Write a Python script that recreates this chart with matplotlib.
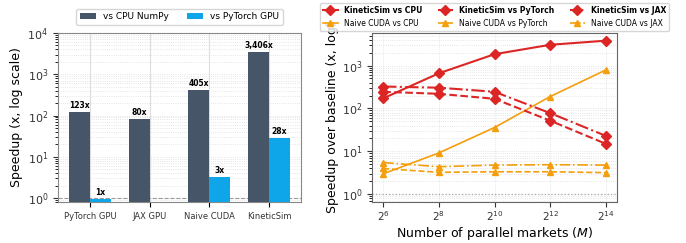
import numpy as np
import matplotlib
matplotlib.use('Agg')
import matplotlib.pyplot as plt

# ---- left panel: speedup per backend ----
backends = ['PyTorch GPU', 'JAX GPU', 'Naive CUDA', 'KineticSim']
vs_cpu = [123, 80, 405, 3406]
vs_torch = [0.95, np.nan, 3.2, 28]
cpu_labels = ['123x', '80x', '405x', '3,406x']
torch_labels = ['1x', '', '3x', '28x']

# ---- right panel: scaling with number of markets ----
M = [2**6, 2**8, 2**10, 2**12, 2**14]
ks_cpu = [172, 660, 1840, 3050, 3800]
ks_torch = [245, 220, 168, 52, 15]
ks_jax = [325, 305, 245, 78, 23]
nc_cpu = [3.0, 9.2, 36, 190, 790]
nc_torch = [4.0, 3.25, 3.35, 3.35, 3.2]
nc_jax = [5.5, 4.4, 4.8, 4.9, 4.8]

DARK = '#475569'
SKY = '#0ea5e9'
RED = '#dc2626'
ORANGE = '#f59e0b'

fig = plt.figure(figsize=(6.86, 2.43), dpi=100)
ax1 = fig.add_axes([58/686, 1 - 202/243, 243/686, 169/243])
ax2 = fig.add_axes([372/686, 1 - 202/243, 245/686, 169/243])

x = np.arange(len(backends))
w = 0.35
b1 = ax1.bar(x - w/2, vs_cpu, w, color=DARK, label='vs CPU NumPy', zorder=3)
b2 = ax1.bar(x + w/2, vs_torch, w, color=SKY, label='vs PyTorch GPU', zorder=3)
for rect, lab in zip(b1, cpu_labels):
    ax1.text(rect.get_x() + rect.get_width()/2, rect.get_height()*1.12, lab,
             ha='center', va='bottom', fontsize=5.5, fontweight='bold')
for rect, lab in zip(b2, torch_labels):
    if lab:
        ax1.text(rect.get_x() + rect.get_width()/2, rect.get_height()*1.12, lab,
                 ha='center', va='bottom', fontsize=5.5, fontweight='bold')
ax1.axhline(1, color='#999999', ls='--', lw=0.8, zorder=2)
ax1.set_yscale('log')
ax1.set_ylim(0.8, 1e4)
ax1.set_xticks(x)
ax1.set_xticklabels(backends, fontsize=6, color='#333333')
ax1.tick_params(axis='y', labelsize=8, colors='#333333')
ax1.set_ylabel('Speedup (x, log scale)', fontsize=9, labelpad=3)
ax1.grid(axis='x', color='#dddddd', lw=0.8, zorder=0)
ax1.grid(axis='y', which='both', ls=':', color='#dddddd', lw=0.6, zorder=0)
for s in ax1.spines.values():
    s.set_color('#888888')
ax1.legend(loc='lower center', bbox_to_anchor=(0.5, 1.02), ncol=2, fontsize=6.5,
           frameon=True, edgecolor='#cccccc', handlelength=1.8, columnspacing=2)

ax2.plot(M, ks_cpu, '-D', color=RED, lw=1.5, ms=5.5, label='KineticSim vs CPU')
ax2.plot(M, nc_cpu, '-^', color=ORANGE, lw=1.2, ms=4, label='Naive CUDA vs CPU')
ax2.plot(M, ks_torch, '--D', color=RED, lw=1.5, ms=5.5, label='KineticSim vs PyTorch')
ax2.plot(M, nc_torch, '--^', color=ORANGE, lw=1.2, ms=4, label='Naive CUDA vs PyTorch')
ax2.plot(M, ks_jax, '-.D', color=RED, lw=1.5, ms=5.5, label='KineticSim vs JAX')
ax2.plot(M, nc_jax, '-.^', color=ORANGE, lw=1.2, ms=4, label='Naive CUDA vs JAX')
ax2.axhline(1, color='#aaaaaa', ls=':', lw=0.9)
ax2.set_xscale('log', base=2)
ax2.set_yscale('log')
ax2.set_xticks(M)
ax2.tick_params(axis='x', labelsize=7.5, colors='#333333', pad=2)
ax2.tick_params(axis='y', labelsize=8, colors='#333333')
ax2.set_xlabel('Number of parallel markets ($M$)', fontsize=9, labelpad=1)
ax2.set_ylabel('Speedup over baseline (x, log)', fontsize=9, labelpad=2)
ax2.grid(which='both', ls=':', color='#dddddd', lw=0.6)
for s in ax2.spines.values():
    s.set_color('#666666')
leg = ax2.legend(loc='upper center', bbox_to_anchor=(0.5, 1.2), ncol=3, fontsize=5.5,
                 frameon=True, edgecolor='#cccccc', handlelength=2)
for t in leg.get_texts()[::2]:
    t.set_fontweight('bold')

fig.savefig('out.png', dpi=100)
